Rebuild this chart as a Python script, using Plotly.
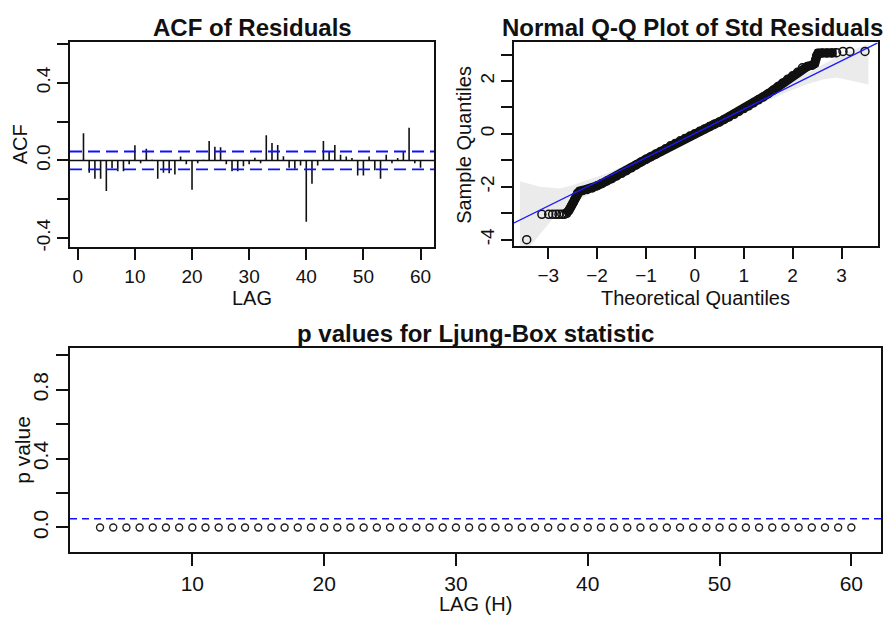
import plotly.graph_objects as go

# ---------------- data ----------------
acf_lags = list(range(1, 61))
acf_values = [0.14, -0.063, -0.094, -0.094, -0.158, -0.04, -0.055, -0.055, -0.02, 0.078,
              -0.015, 0.06, 0.004, -0.094, -0.063, -0.066, -0.073, 0.02, -0.02, -0.151,
              -0.015, 0.003, 0.10, 0.07, 0.068, -0.02, -0.055, -0.055, -0.03, -0.02,
              0.014, -0.015, 0.13, 0.09, 0.08, 0.022, -0.037, -0.043, -0.026, -0.316,
              -0.12, -0.026, 0.10, 0.048, 0.08, 0.029, 0.02, 0.012, -0.077, -0.077,
              0.02, -0.05, -0.094, 0.029, -0.015, 0.012, 0.043, 0.168, -0.015, -0.037]
acf_conf = 0.046

qq_theoretical = [-3.44, -3.13, -2.99, -2.91, -2.84, -2.78, -2.72,
                  -2.67, -2.62, -2.58, -2.55, -2.52, -2.49, -2.46, -2.43, -2.40, -2.36,
                  -2.30, -2.20, -2.10, -2.00, -1.90, -1.80, -1.70, -1.60, -1.50, -1.40,
                  -1.30, -1.20, -1.10, -1.00, -0.90, -0.80, -0.70, -0.60, -0.50, -0.40,
                  -0.30, -0.20, -0.10, 0.00, 0.10, 0.20, 0.30, 0.40, 0.50, 0.60,
                  0.70, 0.80, 0.90, 1.00, 1.10, 1.20, 1.30, 1.40, 1.50, 1.60,
                  1.70, 1.80, 1.90, 2.00, 2.10, 2.20, 2.30, 2.40, 2.45, 2.47,
                  2.49, 2.52, 2.60, 2.70, 2.80, 2.90, 3.03, 3.17, 3.48]
qq_sample = [-4.00, -3.04, -3.04, -3.04, -3.04, -3.04, -3.04,
             -3.04, -3.00, -2.90, -2.80, -2.70, -2.60, -2.48, -2.36, -2.24, -2.17,
             -2.14, -2.10, -2.04, -1.96, -1.87, -1.78, -1.69, -1.59, -1.49, -1.39,
             -1.28, -1.17, -1.06, -0.96, -0.86, -0.76, -0.66, -0.56, -0.45, -0.36,
             -0.26, -0.17, -0.08, 0.01, 0.10, 0.19, 0.28, 0.37, 0.45, 0.55,
             0.64, 0.74, 0.85, 0.96, 1.06, 1.17, 1.29, 1.40, 1.52, 1.65,
             1.79, 1.93, 2.07, 2.20, 2.33, 2.50, 2.55, 2.60, 2.66, 2.80,
             2.95, 3.05, 3.06, 3.06, 3.06, 3.07, 3.12, 3.12, 3.12]
qq_line_intercept = 0.02
qq_line_slope = 0.915
# confidence envelope (upper edge left->right, then lower edge right->left)
qq_env_x = [-3.58, -3.17, -2.76, -2.50, -2.21, -1.80, -1.00, 0.00, 1.00, 2.00, 3.00, 3.55,
            3.55, 2.90, 2.62, 2.28, 1.94, 1.50, 1.00, 0.00, -1.00, -2.00, -2.50, -2.90, -3.37, -3.58]
qq_env_y = [-1.79, -2.00, -2.06, -1.94, -1.75, -1.50, -0.82, 0.12, 1.05, 2.00, 3.00, 3.40,
            1.87, 2.13, 2.06, 1.87, 1.62, 1.25, 0.85, -0.10, -1.05, -2.10, -2.65, -3.19, -4.25, -4.25]

lb_lags = list(range(3, 61))
lb_pvalues = [0.0, 0.0, 0.0, 0.0, 0.0, 0.0, 0.0, 0.0, 0.0, 0.0,
              0.0, 0.0, 0.0, 0.0, 0.0, 0.0, 0.0, 0.0, 0.0, 0.0,
              0.0, 0.0, 0.0, 0.0, 0.0, 0.0, 0.0, 0.0, 0.0, 0.0,
              0.0, 0.0, 0.0, 0.0, 0.0, 0.0, 0.0, 0.0, 0.0, 0.0,
              0.0, 0.0, 0.0, 0.0, 0.0, 0.0, 0.0, 0.0, 0.0, 0.0,
              0.0, 0.0, 0.0, 0.0, 0.0, 0.0, 0.0, 0.0]
lb_threshold = 0.05

# ---------------- layout helpers ----------------
# the page body has an 8px margin, so the figure starts at page (8, 8)
OFF = 8
W, H = 894 - OFF, 619 - OFF
def px(x):
    return (x - OFF) / W
def py(y):
    return 1 - (y - OFF) / H

FONT = "Liberation Sans, Arial, sans-serif"
INK = "#111111"
TICK_FS = 19
LB_TICK_FS = 21
LAB_FS = 20
TITLE_FS = 24

fig = go.Figure()

# ACF bars
bx, by = [], []
for lag, v in zip(acf_lags, acf_values):
    bx += [lag, lag, None]
    by += [0, v, None]
fig.add_trace(go.Scatter(x=bx, y=by, mode="lines", line=dict(color=INK, width=1.6),
                         xaxis="x", yaxis="y", hoverinfo="skip"))

# QQ envelope
fig.add_trace(go.Scatter(x=qq_env_x, y=qq_env_y, mode="lines", fill="toself",
                         fillcolor="#ebebeb", line=dict(width=0), xaxis="x2", yaxis="y2",
                         hoverinfo="skip"))
# QQ dense band
band_x = [x for x in qq_theoretical if -2.68 <= x <= 2.92]
band_y = [y for x, y in zip(qq_theoretical, qq_sample) if -2.68 <= x <= 2.92]
fig.add_trace(go.Scatter(x=band_x, y=band_y, mode="lines",
                         line=dict(color="#111111", width=9), xaxis="x2", yaxis="y2",
                         hoverinfo="skip"))
fig.add_trace(go.Scatter(x=qq_theoretical, y=qq_sample, mode="markers",
                         marker=dict(symbol="circle-open", size=8, color="#111111",
                                     line=dict(width=1.5)),
                         xaxis="x2", yaxis="y2"))
# QQ reference line across the axis range
qx_range = [-3.70, 3.74]
fig.add_trace(go.Scatter(x=qx_range,
                         y=[qq_line_intercept + qq_line_slope * v for v in qx_range],
                         mode="lines", line=dict(color="#1a1aff", width=1.3),
                         xaxis="x2", yaxis="y2", hoverinfo="skip"))

# Ljung-Box p-values
fig.add_trace(go.Scatter(x=lb_lags, y=lb_pvalues, mode="markers",
                         marker=dict(symbol="circle-open", size=7, color="#222222",
                                     line=dict(width=1.4)),
                         xaxis="x3", yaxis="y3"))

def axis_style(fs, ticklen=11):
    return dict(showline=True, linecolor=INK, linewidth=1.8, mirror=True,
                ticks="outside", ticklen=ticklen, tickwidth=1.6, tickcolor=INK,
                showgrid=False, zeroline=False,
                tickfont=dict(family=FONT, size=fs, color=INK))

fig.update_layout(
    width=W, height=H, margin=dict(l=0, r=0, t=0, b=0),
    paper_bgcolor="white", plot_bgcolor="white", showlegend=False,
    font=dict(family=FONT, color=INK),
    xaxis=dict(domain=[px(70), px(434)], range=[-1.36, 62.36], anchor="y",
               tickvals=[0, 10, 20, 30, 40, 50, 60], **axis_style(TICK_FS)),
    yaxis=dict(domain=[py(249), py(42.7)], range=[-0.446, 0.608], anchor="x",
               tickvals=[-0.4, -0.2, 0.0, 0.2, 0.4, 0.6],
               ticktext=["-0.4", "", "0.0", "", "0.4", ""], tickangle=-90,
               **axis_style(TICK_FS)),
    xaxis2=dict(domain=[px(514), px(877.7)], range=[-3.70, 3.74], anchor="y2",
                tickvals=[-3, -2, -1, 0, 1, 2, 3], **axis_style(TICK_FS)),
    yaxis2=dict(domain=[py(248.3), py(42.7)], range=[-4.25, 3.46], anchor="x2",
                tickvals=[-4, -3, -2, -1, 0, 1, 2, 3],
                ticktext=["-4", "", "-2", "", "0", "", "2", ""], tickangle=-90,
                **axis_style(TICK_FS)),
    xaxis3=dict(domain=[px(70), px(881.4)], range=[0.72, 62.28], anchor="y3",
                tickvals=[10, 20, 30, 40, 50, 60], **axis_style(LB_TICK_FS, 12)),
    yaxis3=dict(domain=[py(556.7), py(350.7)], range=[-0.144, 1.044], anchor="x3",
                tickvals=[0.0, 0.2, 0.4, 0.6, 0.8, 1.0],
                ticktext=["0.0", "", "0.4", "", "0.8", ""], tickangle=-90,
                **axis_style(LB_TICK_FS, 12)),
)

# reference lines
fig.add_shape(type="line", xref="x domain", yref="y", x0=0, x1=1, y0=0, y1=0,
              line=dict(color=INK, width=1.6))
for s in (1, -1):
    fig.add_shape(type="line", xref="x domain", yref="y", x0=0, x1=1,
                  y0=s * acf_conf, y1=s * acf_conf,
                  line=dict(color="#1010ff", width=1.8, dash="12px,6px"))
fig.add_shape(type="line", xref="x3 domain", yref="y3", x0=0, x1=1,
              y0=lb_threshold, y1=lb_threshold,
              line=dict(color="#1010ff", width=1.5, dash="7px,5px"))

def text(x, y, s, size, angle=0, yanchor="middle"):
    fig.add_annotation(x=px(x), y=py(y), xref="paper", yref="paper", text=s,
                       showarrow=False, textangle=angle, xanchor="center", yanchor=yanchor,
                       font=dict(family=FONT, size=size, color=INK))

text(252, 28, "<b>ACF of Residuals</b>", TITLE_FS)
text(692, 28, "<b>Normal Q-Q Plot of Std Residuals</b>", TITLE_FS)
text(475, 336, "<b>p values for Ljung-Box statistic</b>", TITLE_FS)
text(252, 300, "LAG", LAB_FS)
text(19.5, 146, "ACF", LAB_FS, angle=-90)
text(695, 300, "Theoretical Quantiles", LAB_FS)
text(464, 146, "Sample Quantiles", LAB_FS, angle=-90)
text(475, 596, "LAG (H)", 20, yanchor="top")
text(22.5, 454, "p value", 21, angle=-90)

fig.write_html("out.html")
